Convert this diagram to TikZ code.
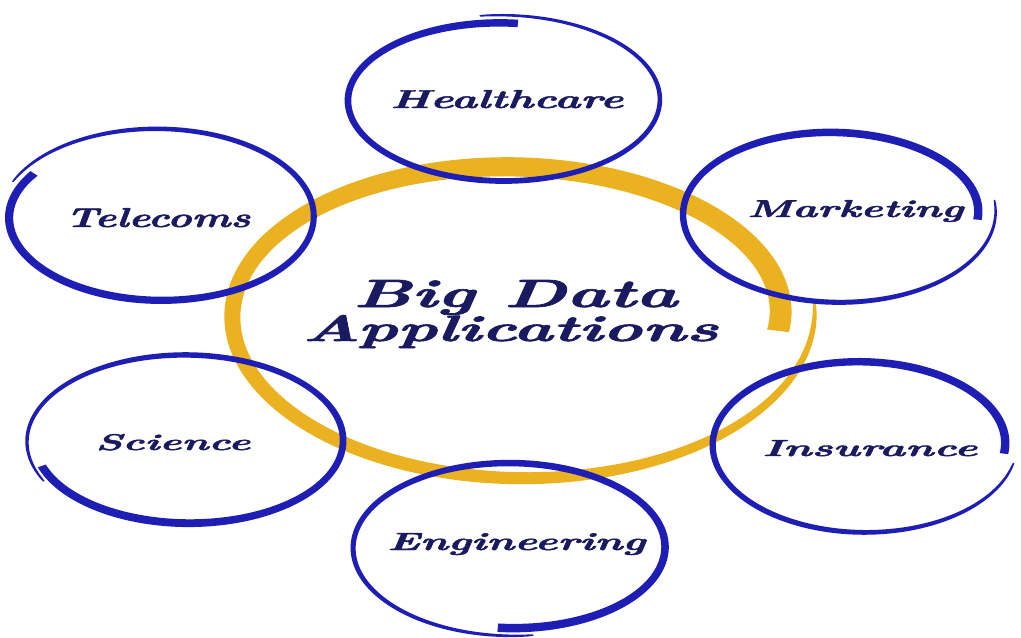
\documentclass[tikz,border=0pt]{standalone}
\usepackage{graphicx}
\usepackage{fontspec}
\newfontfamily\lblfont{Latin Modern Roman}[FakeBold=1.6]
\definecolor{ringblue}{RGB}{30,30,180}
\definecolor{ringgold}{RGB}{234,178,32}
\definecolor{inkblue}{RGB}{26,26,96}
\tikzset{
  declare function={ringr(\p,\a,\b,\r,\d,\wa,\wb,\sg)=\r+(\d)*(1-(\p-(\a))/(\b-(\a)))+(\sg)*0.5*(\wa+(\wb-\wa)*sqrt(abs((\p-(\a))/(\b-(\a)))));},
  bluering/.style={fill=ringblue},
  goldring/.style={fill=ringgold},
  lbl/.style={inner sep=0pt, anchor=base west, text=inkblue, font=\lblfont\fontsize{20}{24}\selectfont\bfseries\itshape},
}
% #1 cx, #2 cy, #3 rx, #4 ry, #5 start angle (thin end), #6 end angle (thick end),
% #7 width at start, #8 width at end, #9 outward offset at start
\newcommand\ringpath[9]{%
  plot[domain=#5:#6,samples=180,variable=\t]
    ({#1+ringr(\t,#5,#6,#3,#9,#7,#8,1)*cos(\t)},{#2+ringr(\t,#5,#6,#4,#9,#7,#8,1)*sin(\t)})
  -- plot[domain=#5:#6,samples=180,variable=\t]
    ({#1+ringr(#5+#6-\t,#5,#6,#3,#9,#7,#8,-1)*cos(#5+#6-\t)},{#2+ringr(#5+#6-\t,#5,#6,#4,#9,#7,#8,-1)*sin(#5+#6-\t)})
  -- cycle}
\begin{document}
\begin{tikzpicture}[x=0.02cm,y=-0.02cm]
\useasboundingbox (0,0) rectangle (1021,637);
\fill[white] (0,0) rectangle (1021,637);
% central gold ring
\fill[goldring] \ringpath{515}{314}{265}{138}{-4}{367}{2}{22}{35};
% blue rings
\fill[bluering] \ringpath{502}{100}{152}{77}{-98}{276}{1.5}{7.5}{8};
\fill[bluering] \ringpath{159}{217}{149}{80}{-157}{213}{1.5}{8.5}{10};
\fill[bluering] \ringpath{835}{213}{143}{76}{-8}{365}{1.5}{8.5}{18};
\fill[bluering] \ringpath{187}{441}{152.6}{80.6}{-207}{162}{1.5}{8.5}{8};
\fill[bluering] \ringpath{862}{444}{143}{79}{12}{367}{1.5}{8.5}{12};
\fill[bluering] \ringpath{511}{547.5}{152}{80.5}{-278}{95}{1.5}{8.5}{8};
% labels
\node[lbl] (health) at (390,108) {\resizebox{4.66cm}{0.36cm}{Healthcare}};
\node[lbl] (tele) at (65,227) {\resizebox{3.70cm}{0.38cm}{Telecoms}};
\node[lbl] (mkt) at (747,217) {\resizebox{4.32cm}{0.34cm}{Marketing}};
\node[lbl] (sci) at (95,450) {\resizebox{3.10cm}{0.32cm}{Science}};
\node[lbl] (ins) at (762,456) {\resizebox{4.30cm}{0.32cm}{Insurance}};
\node[lbl] (eng) at (387,550) {\resizebox{5.16cm}{0.34cm}{Engineering}};
\node[lbl] (big) at (353,307) {\resizebox{6.48cm}{0.54cm}{Big Data}};
\node[lbl] (app) at (302,341) {\resizebox{8.32cm}{0.52cm}{Applications}};
\end{tikzpicture}
\end{document}
